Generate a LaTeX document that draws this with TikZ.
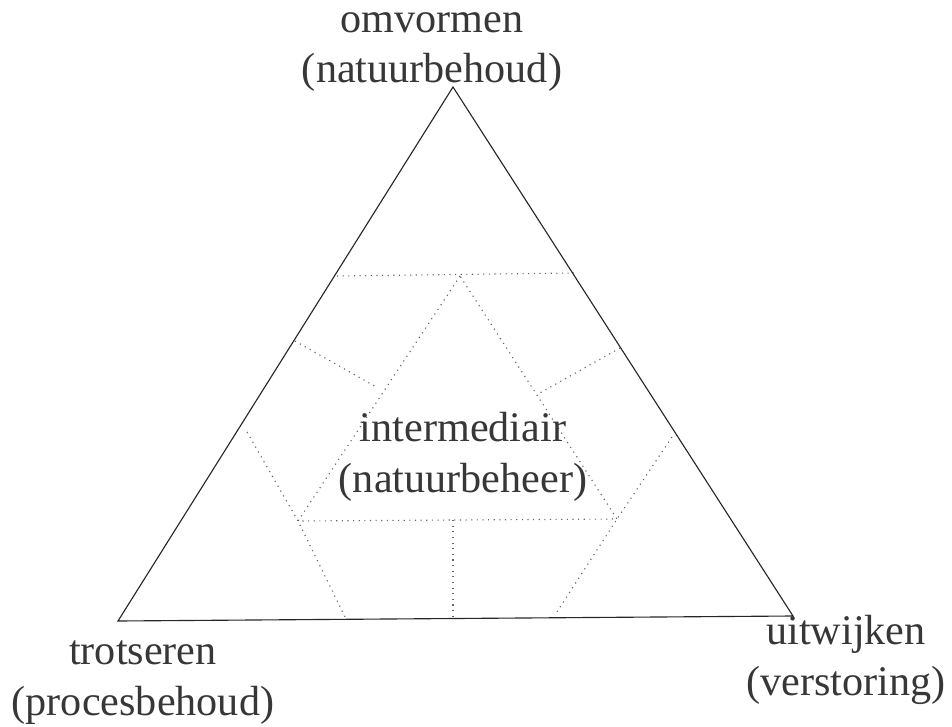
\documentclass[tikz,border=0pt]{standalone}
\usepackage{fontspec}
\setmainfont{Liberation Serif}
\usetikzlibrary{positioning, calc}
\definecolor{inkgray}{RGB}{55,55,55}
\definecolor{dotgray}{RGB}{100,100,100}
\tikzset{
    pole/.style={align=center, text=inkgray, inner sep=0pt, font=\fontsize{30}{36}\selectfont, anchor=base},
    edge/.style={line width=0.8pt, black!85, line join=miter},
    divide/.style={dotgray, line width=0.8pt, dash pattern=on 0.8pt off 3.2pt},
}
\begin{document}
\begin{tikzpicture}[x=0.025cm, y=-0.025cm]
                \useasboundingbox (0,0) rectangle (952,727);
                % hoekpunten van de driehoek
                \coordinate (top) at (453,87);
                \coordinate (left) at (118,621);
                \coordinate (right) at (793,616);
                % binnendriehoek en verdeelpunten
                \coordinate (itop) at (460,276);
                \coordinate (ileft) at (298,521);
                \coordinate (iright) at (617,519);
                \coordinate (imid) at (453,520);
                \coordinate (hl) at (337,276);
                \coordinate (hr) at (574,273);
                \coordinate (ul) at (295,341);
                \coordinate (ule) at (378,388);
                \coordinate (ur) at (620,348);
                \coordinate (ure) at (538,394);
                \coordinate (ll) at (247,432);
                \coordinate (lle) at (346,619);
                \coordinate (rl) at (672,437);
                \coordinate (rle) at (555,615);
                \coordinate (bmid) at (453,618);
                \draw[edge] (top) -- (left) -- (right) -- cycle;
                \draw[divide] (hl) -- (hr);
                \draw[divide] (itop) -- (ileft) -- (iright) -- cycle;
                \draw[divide] (ul) -- (ule);
                \draw[divide] (ur) -- (ure);
                \draw[divide] (ll) -- (ileft) -- (lle);
                \draw[divide] (rl) -- (iright) -- (rle);
                \draw[divide] (imid) -- (bmid);
                % labels
                \node[pole] (omvormen) at (432,83) {omvormen\\(natuurbehoud)};
                \node[pole] (trotseren) at (143,715) {trotseren\\(procesbehoud)};
                \node[pole] (uitwijken) at (846,695) {uitwijken\\(verstoring)};
                \node[pole] (intermediair) at (463,492) {intermediair\\(natuurbeheer)};
            \end{tikzpicture}
\end{document}
